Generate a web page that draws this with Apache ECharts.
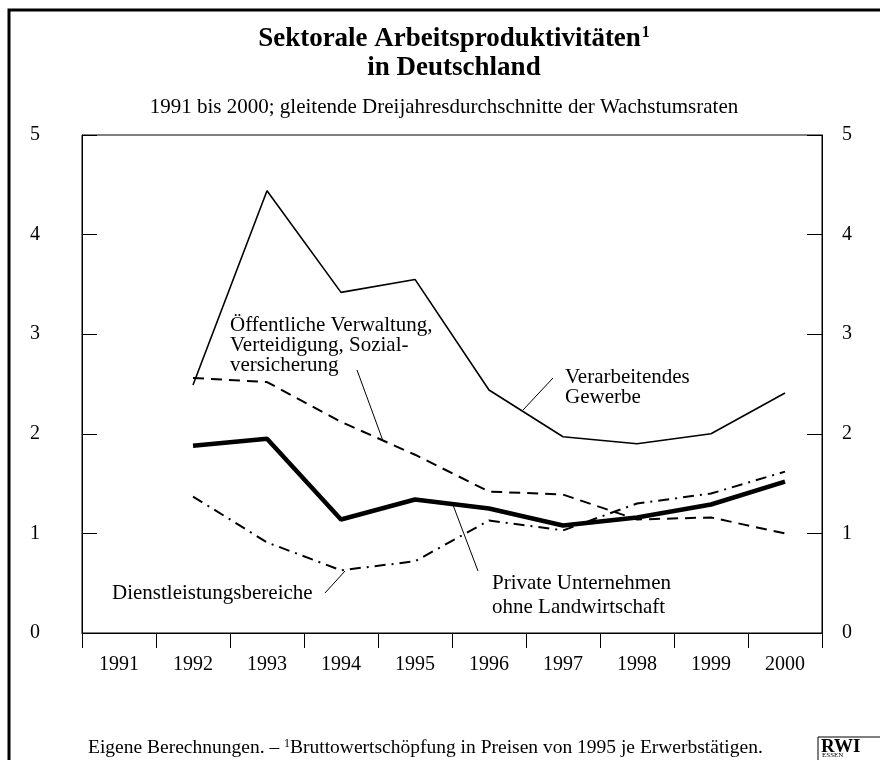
<!DOCTYPE html>
<html>
<head>
<meta charset="utf-8">
<script src="https://cdn.jsdelivr.net/npm/echarts@6/dist/echarts.min.js"></script>
<style>
  html, body { margin: 0; padding: 0; background: #fff; }
  #chart { width: 880px; height: 760px; }
</style>
</head>
<body>
<div id="chart"></div>
<script>
// years on the x axis
const years = ['1991', '1992', '1993', '1994', '1995', '1996', '1997', '1998', '1999', '2000'];

// three-year moving averages of growth rates
const verarbeitend = [null, 2.49, 4.44, 3.42, 3.55, 2.44, 1.97, 1.90, 2.00, 2.41];
const oeffentlich  = [null, 2.56, 2.52, 2.12, 1.79, 1.42, 1.39, 1.14, 1.16, 1.00];
const privat       = [null, 1.88, 1.95, 1.14, 1.34, 1.25, 1.08, 1.16, 1.29, 1.52];
const dienst       = [null, 1.37, 0.91, 0.63, 0.72, 1.13, 1.03, 1.30, 1.40, 1.62];

const yTicks = [0, 1, 2, 3, 4, 5];

const serif = '"Liberation Serif", "Times New Roman", serif';

let myChart = echarts.init(document.getElementById('chart'));

const yAxisBase = {
    type: 'value',
    min: yTicks[0],
    max: yTicks[yTicks.length - 1],
    interval: 1,
    splitLine: { show: false },
    axisLine: { show: true, lineStyle: { color: '#000', width: 1 } },
    axisTick: { show: true, inside: true, length: 15, lineStyle: { color: '#000' } },
    axisLabel: { color: '#000', fontFamily: serif, fontSize: 20 }
};

let option = {
    backgroundColor: '#fff',
    animation: false,
    grid: {
        left: 82, right: 58, top: 135, bottom: 127,
        show: true, borderColor: '#000', borderWidth: 1
    },
    xAxis: {
        type: 'category',
        data: years,
        boundaryGap: true,
        axisLine: { lineStyle: { color: '#000', width: 1 } },
        axisTick: { show: true, length: 15, alignWithLabel: false, lineStyle: { color: '#000' } },
        axisLabel: { color: '#000', fontFamily: serif, fontSize: 20, margin: 22 },
        splitLine: { show: false }
    },
    yAxis: [
        Object.assign({}, yAxisBase, { position: 'left', axisLabel: Object.assign({}, yAxisBase.axisLabel, { margin: 42 }) }),
        Object.assign({}, yAxisBase, { position: 'right', axisLabel: Object.assign({}, yAxisBase.axisLabel, { margin: 20 }) })
    ],
    series: [
        {
            name: 'Verarbeitendes Gewerbe',
            type: 'line',
            data: verarbeitend,
            showSymbol: false,
            lineStyle: { color: '#000', width: 1.6 }
        },
        {
            name: 'Öffentliche Verwaltung, Verteidigung, Sozialversicherung',
            type: 'line',
            data: oeffentlich,
            showSymbol: false,
            lineStyle: { color: '#000', width: 2, type: [11, 7] }
        },
        {
            name: 'Private Unternehmen ohne Landwirtschaft',
            type: 'line',
            data: privat,
            showSymbol: false,
            lineStyle: { color: '#000', width: 4.5 }
        },
        {
            name: 'Dienstleistungsbereiche',
            type: 'line',
            data: dienst,
            showSymbol: false,
            lineStyle: { color: '#000', width: 2, type: [11, 6, 2, 6] }
        }
    ],
    graphic: [
        // outer frame
        { type: 'rect', shape: { x: 9, y: 10, width: 900, height: 800 }, style: { fill: 'none', stroke: '#000', lineWidth: 3 } },
        // title
        {
            type: 'text', x: 454, y: 25,
            style: {
                text: '{t|Sektorale Arbeitsproduktivitäten}{s|1}\n{t|in Deutschland}',
                align: 'center',
                rich: {
                    t: { font: 'bold 27px ' + serif, fill: '#000', lineHeight: 29, align: 'center' },
                    s: { font: 'bold 16px ' + serif, fill: '#000', verticalAlign: 'top', padding: [0, 0, 12, 1] }
                }
            }
        },
        {
            type: 'text', x: 444, y: 107,
            style: {
                text: '1991 bis 2000; gleitende Dreijahresdurchschnitte der Wachstumsraten',
                font: '21px ' + serif, fill: '#000', align: 'center', verticalAlign: 'middle'
            }
        },
        // annotations
        {
            type: 'text', x: 230, y: 315,
            style: {
                text: 'Öffentliche Verwaltung,\nVerteidigung, Sozial-\nversicherung',
                font: '21px ' + serif, fill: '#000', lineHeight: 20
            }
        },
        { type: 'line', shape: { x1: 357, y1: 370, x2: 383, y2: 441 }, style: { stroke: '#000', lineWidth: 1 } },
        {
            type: 'text', x: 565, y: 367,
            style: { text: 'Verarbeitendes\nGewerbe', font: '21px ' + serif, fill: '#000', lineHeight: 20 }
        },
        { type: 'line', shape: { x1: 553, y1: 378, x2: 523, y2: 410 }, style: { stroke: '#000', lineWidth: 1 } },
        {
            type: 'text', x: 112, y: 582,
            style: { text: 'Dienstleistungsbereiche', font: '21px ' + serif, fill: '#000', lineHeight: 22 }
        },
        { type: 'line', shape: { x1: 325, y1: 593, x2: 345, y2: 571 }, style: { stroke: '#000', lineWidth: 1 } },
        {
            type: 'text', x: 492, y: 571,
            style: { text: 'Private Unternehmen\nohne Landwirtschaft', font: '21px ' + serif, fill: '#000', lineHeight: 24 }
        },
        { type: 'line', shape: { x1: 478, y1: 571, x2: 453, y2: 505 }, style: { stroke: '#000', lineWidth: 1 } },
        // footnote
        {
            type: 'text', x: 88, y: 738,
            style: {
                text: '{n|Eigene Berechnungen. – }{s|1}{n|Bruttowertschöpfung in Preisen von 1995 je Erwerbstätigen.}',
                rich: {
                    n: { font: '19.5px ' + serif, fill: '#000' },
                    s: { font: '12px ' + serif, fill: '#000', verticalAlign: 'top', padding: [0, 0, 8, 0] }
                }
            }
        },
        // RWI logo
        { type: 'rect', shape: { x: 818, y: 737, width: 80, height: 60 }, style: { fill: 'none', stroke: '#000', lineWidth: 1 } },
        { type: 'text', x: 821, y: 738, style: { text: 'RWI', font: 'bold 19px ' + serif, fill: '#000' } },
        { type: 'text', x: 822, y: 752, style: { text: 'ESSEN', font: '7px ' + serif, fill: '#000' } }
    ]
};

option && myChart.setOption(option);
</script>
</body>
</html>
